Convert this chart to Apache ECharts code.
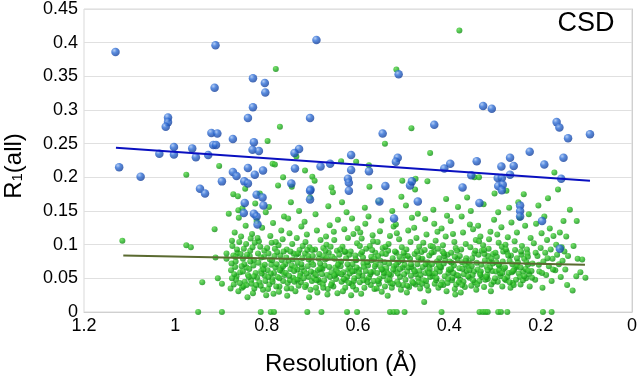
<!DOCTYPE html>
<html>
<head>
<meta charset="utf-8">
<script src="https://cdn.jsdelivr.net/npm/echarts@6/dist/echarts.min.js"></script>
<style>
  html, body { margin: 0; padding: 0; background: #fff; }
  #chart { width: 640px; height: 383px; }
</style>
</head>
<body>
<div id="chart"></div>
<script>
// tick labels
const xTicks = ['0', '0.2', '0.4', '0.6', '0.8', '1', '1.2'];
const yTicks = ['0', '0.05', '0.1', '0.15', '0.2', '0.25', '0.3', '0.35', '0.4', '0.45'];

// blue points (resolution, R1)
const bluePoints = [
  [1.131,0.386],[0.912,0.396],[0.914,0.333],[0.691,0.404],[0.830,0.347],[0.804,0.340],[0.803,0.326],
  [0.830,0.304],[0.841,0.288],[0.705,0.288],[1.016,0.289],[1.016,0.282],[1.021,0.275],[0.921,0.266],
  [0.908,0.265],[0.874,0.257],[0.828,0.252],[0.917,0.248],[0.911,0.248],[1.003,0.245],[0.963,0.243],
  [0.831,0.241],[0.817,0.239],[0.729,0.242],[0.739,0.236],[1.035,0.235],[1.003,0.234],[0.928,0.233],
  [0.955,0.230],[1.123,0.215],[1.076,0.201],[0.841,0.214],[0.874,0.208],[0.866,0.202],[0.826,0.204],
  [0.808,0.210],[0.738,0.213],[0.898,0.194],[0.849,0.194],[0.841,0.191],[0.746,0.191],[0.946,0.183],
  [0.704,0.182],[0.935,0.176],[0.822,0.174],[0.809,0.170],[0.807,0.158],[0.848,0.162],[0.850,0.147],
  [0.828,0.146],[0.822,0.142],[0.820,0.130],[0.705,0.180],[0.705,0.167],
  [0.511,0.353],[0.326,0.306],[0.307,0.302],[0.433,0.278],[0.546,0.265],[0.165,0.282],[0.159,0.274],
  [0.140,0.258],[0.092,0.264],[0.224,0.238],[0.150,0.229],[0.192,0.219],[0.267,0.229],[0.259,0.217],
  [0.286,0.216],[0.340,0.224],[0.398,0.220],[0.411,0.213],[0.513,0.229],[0.517,0.223],[0.615,0.233],
  [0.615,0.211],[0.576,0.209],[0.661,0.220],[0.682,0.216],[0.622,0.198],[0.620,0.192],[0.540,0.187],
  [0.486,0.188],[0.482,0.194],[0.371,0.185],[0.352,0.203],[0.267,0.204],[0.294,0.199],[0.285,0.199],
  [0.293,0.187],[0.283,0.189],[0.155,0.198],[0.620,0.180],[0.553,0.164],[0.521,0.139],[0.469,0.164],
  [0.334,0.162],[0.285,0.181],[0.245,0.158],[0.245,0.150],[0.245,0.142],[0.197,0.135],[0.158,0.094]
];

// green points (resolution, R1)
const greenPoints = [
  // sparse, low resolution side
  [1.116,0.106],[0.976,0.099],[0.966,0.096],[0.976,0.204],[0.914,0.123],[0.941,0.044],[0.907,0.050],
  [0.898,0.042],[0.912,0.081],[0.888,0.087],[0.888,0.079],[0.879,0.035],[0.904,0.217],[0.883,0.146],
  [0.873,0.175],[0.862,0.151],
  // high outliers
  [0.378,0.418],[0.516,0.360],[0.780,0.361],[0.771,0.275],[0.798,0.254],[0.787,0.220],[0.782,0.219],
  [0.764,0.200],[0.483,0.273],[0.541,0.250],[0.442,0.236],[0.637,0.224],[0.604,0.223],[0.576,0.218],
  [0.503,0.195],[0.474,0.198],[0.448,0.194],[0.658,0.185],[0.345,0.200],[0.335,0.200],[0.170,0.207],
  [0.162,0.182],[0.735,0.231],[0.716,0.210],[0.700,0.201],[0.745,0.186],
  // zeros
  [0.950,0],[0.898,0],[0.813,0],[0.791,0],[0.784,0],[0.711,0],[0.680,0],[0.624,0],[0.602,0],[0.530,0],
  [0.522,0],[0.515,0],[0.498,0],[0.417,0],[0.334,0],[0.327,0],[0.321,0],[0.316,0],[0.293,0],[0.287,0],
  [0.273,0],[0.195,0],[0.176,0],
  // dense band
  [0.878,0.062],[0.875,0.098],[0.872,0.041],[0.870,0.118],[0.868,0.075],[0.866,0.053],[0.864,0.088],
  [0.862,0.031],[0.861,0.140],[0.876,0.106],[0.869,0.067],[0.863,0.172],[0.873,0.084],[0.867,0.048],
  [0.858,0.059],[0.856,0.112],[0.854,0.036],[0.852,0.079],[0.850,0.094],[0.848,0.045],[0.846,0.128],
  [0.844,0.066],[0.842,0.022],[0.857,0.086],[0.853,0.154],[0.849,0.071],[0.845,0.101],[0.841,0.055],
  [0.851,0.038],[0.847,0.183],
  [0.838,0.064],[0.836,0.091],[0.834,0.047],[0.832,0.116],[0.830,0.028],[0.828,0.077],[0.826,0.103],
  [0.824,0.058],[0.822,0.135],[0.837,0.083],[0.833,0.042],[0.829,0.069],[0.825,0.161],[0.821,0.051],
  [0.835,0.109],[0.827,0.035],
  [0.818,0.073],[0.816,0.044],[0.814,0.097],[0.812,0.061],[0.810,0.125],[0.808,0.033],[0.806,0.082],
  [0.804,0.054],[0.802,0.148],[0.817,0.105],[0.813,0.039],[0.809,0.068],[0.805,0.091],[0.801,0.025],
  [0.815,0.176],[0.811,0.057],
  [0.798,0.062],[0.796,0.087],[0.794,0.041],[0.792,0.113],[0.790,0.070],[0.788,0.049],[0.786,0.132],
  [0.784,0.058],[0.782,0.094],[0.797,0.034],[0.793,0.078],[0.789,0.103],[0.785,0.027],[0.781,0.066],
  [0.795,0.156],[0.787,0.045],
  [0.778,0.071],[0.776,0.052],[0.774,0.099],[0.772,0.038],[0.770,0.084],[0.768,0.121],[0.766,0.060],
  [0.764,0.046],[0.762,0.142],[0.777,0.089],[0.773,0.030],[0.769,0.065],[0.765,0.108],[0.761,0.055],
  [0.775,0.188],[0.767,0.077],
  [0.758,0.058],[0.756,0.093],[0.754,0.043],[0.752,0.076],[0.750,0.117],[0.748,0.064],[0.746,0.035],
  [0.744,0.101],[0.742,0.051],[0.757,0.081],[0.753,0.139],[0.749,0.047],[0.745,0.069],[0.741,0.087],
  [0.755,0.024],[0.747,0.163],
  [0.738,0.066],[0.736,0.048],[0.734,0.110],[0.732,0.073],[0.730,0.039],[0.728,0.092],[0.726,0.057],
  [0.724,0.127],[0.722,0.080],[0.737,0.031],[0.733,0.063],[0.729,0.150],[0.725,0.044],[0.721,0.098],
  [0.735,0.085],[0.727,0.053],
  [0.718,0.061],[0.716,0.087],[0.714,0.040],[0.712,0.115],[0.710,0.068],[0.708,0.052],[0.706,0.096],
  [0.704,0.033],[0.702,0.074],[0.717,0.134],[0.713,0.057],[0.709,0.083],[0.705,0.170],[0.701,0.046],
  [0.715,0.104],[0.707,0.022],
  [0.698,0.070],[0.696,0.050],[0.694,0.093],[0.692,0.036],[0.690,0.121],[0.688,0.062],[0.686,0.079],
  [0.684,0.044],[0.682,0.107],[0.697,0.058],[0.693,0.145],[0.689,0.029],[0.685,0.086],[0.681,0.065],
  [0.695,0.195],[0.687,0.048],
  [0.678,0.064],[0.676,0.095],[0.674,0.047],[0.672,0.078],[0.670,0.112],[0.668,0.055],[0.666,0.034],
  [0.664,0.088],[0.662,0.129],[0.677,0.041],[0.673,0.069],[0.669,0.100],[0.665,0.157],[0.661,0.052],
  [0.675,0.083],[0.667,0.026],
  [0.658,0.059],[0.656,0.082],[0.654,0.038],[0.652,0.107],[0.650,0.066],[0.648,0.049],[0.646,0.091],
  [0.644,0.137],[0.642,0.073],[0.657,0.043],[0.653,0.119],[0.649,0.056],[0.645,0.028],[0.641,0.085],
  [0.655,0.178],[0.647,0.062],
  [0.638,0.068],[0.636,0.045],[0.634,0.097],[0.632,0.059],[0.630,0.123],[0.628,0.036],[0.626,0.080],
  [0.624,0.052],[0.622,0.110],[0.637,0.075],[0.633,0.031],[0.629,0.089],[0.625,0.148],[0.621,0.063],
  [0.635,0.163],[0.627,0.047],
  [0.618,0.057],[0.616,0.090],[0.614,0.042],[0.612,0.071],[0.610,0.116],[0.608,0.050],[0.606,0.084],
  [0.604,0.033],[0.602,0.102],[0.617,0.065],[0.613,0.139],[0.609,0.046],[0.605,0.078],[0.601,0.124],
  [0.615,0.025],[0.607,0.061],
  [0.598,0.063],[0.596,0.044],[0.594,0.086],[0.592,0.109],[0.590,0.054],[0.588,0.072],[0.586,0.036],
  [0.584,0.131],[0.582,0.094],[0.597,0.058],[0.593,0.027],[0.589,0.081],[0.585,0.155],[0.581,0.048],
  [0.595,0.118],[0.587,0.067],
  [0.578,0.069],[0.576,0.051],[0.574,0.098],[0.572,0.040],[0.570,0.077],[0.568,0.114],[0.566,0.060],
  [0.564,0.034],[0.562,0.088],[0.577,0.142],[0.573,0.056],[0.569,0.092],[0.565,0.046],[0.561,0.071],
  [0.575,0.186],[0.567,0.105],
  [0.558,0.058],[0.556,0.083],[0.554,0.042],[0.552,0.120],[0.550,0.067],[0.548,0.030],[0.546,0.095],
  [0.544,0.053],[0.542,0.074],[0.557,0.104],[0.553,0.049],[0.549,0.136],[0.545,0.062],[0.541,0.038],
  [0.555,0.165],[0.547,0.087],
  [0.538,0.065],[0.536,0.047],[0.534,0.091],[0.532,0.072],[0.530,0.113],[0.528,0.055],[0.526,0.036],
  [0.524,0.080],[0.522,0.127],[0.537,0.059],[0.533,0.101],[0.529,0.043],[0.525,0.150],[0.521,0.068],
  [0.535,0.024],
  [0.518,0.061],[0.516,0.088],[0.514,0.045],[0.512,0.074],[0.510,0.108],[0.508,0.052],[0.506,0.033],
  [0.504,0.096],[0.502,0.066],[0.517,0.130],[0.513,0.057],[0.509,0.082],[0.505,0.171],[0.501,0.040],
  [0.515,0.117],
  [0.498,0.070],[0.496,0.048],[0.494,0.093],[0.492,0.060],[0.490,0.121],[0.488,0.037],[0.486,0.079],
  [0.484,0.054],[0.482,0.140],[0.497,0.084],[0.493,0.029],[0.489,0.066],[0.485,0.104],[0.481,0.045],
  [0.495,0.158],
  [0.478,0.063],[0.476,0.086],[0.474,0.041],[0.472,0.110],[0.470,0.071],[0.468,0.050],[0.466,0.097],
  [0.464,0.035],[0.462,0.078],[0.477,0.125],[0.473,0.056],[0.469,0.146],[0.465,0.061],[0.461,0.089],
  [0.475,0.182],[0.467,0.044],
  [0.458,0.067],[0.456,0.047],[0.454,0.092],[0.452,0.058],[0.450,0.115],[0.448,0.074],[0.446,0.032],
  [0.444,0.084],[0.442,0.052],[0.457,0.103],[0.453,0.138],[0.449,0.039],[0.445,0.069],[0.441,0.098],
  [0.455,0.015],[0.447,0.061],
  [0.438,0.071],[0.436,0.053],[0.434,0.089],[0.432,0.042],[0.430,0.106],[0.428,0.064],[0.426,0.119],
  [0.424,0.036],[0.422,0.080],[0.437,0.057],[0.433,0.131],[0.429,0.047],[0.425,0.094],[0.421,0.060],
  [0.435,0.152],[0.427,0.075],
  [0.418,0.066],[0.416,0.044],[0.414,0.099],[0.412,0.072],[0.410,0.053],[0.408,0.112],[0.406,0.031],
  [0.404,0.085],[0.402,0.058],[0.417,0.124],[0.413,0.040],[0.409,0.077],[0.405,0.143],[0.401,0.063],
  [0.415,0.090],[0.407,0.168],
  [0.398,0.062],[0.396,0.088],[0.394,0.047],[0.392,0.116],[0.390,0.069],[0.388,0.034],[0.386,0.095],
  [0.384,0.055],[0.382,0.079],[0.397,0.135],[0.393,0.051],[0.389,0.104],[0.385,0.041],[0.381,0.156],
  [0.395,0.073],[0.387,0.026],
  [0.378,0.065],[0.376,0.048],[0.374,0.093],[0.372,0.074],[0.370,0.118],[0.368,0.056],[0.366,0.037],
  [0.364,0.101],[0.362,0.061],[0.377,0.083],[0.373,0.142],[0.369,0.045],[0.365,0.070],[0.361,0.170],
  [0.375,0.029],
  [0.358,0.068],[0.356,0.051],[0.354,0.096],[0.352,0.039],[0.350,0.080],[0.348,0.123],[0.346,0.060],
  [0.344,0.044],[0.342,0.107],[0.357,0.073],[0.353,0.150],[0.349,0.055],[0.345,0.087],[0.341,0.033],
  [0.355,0.130],
  [0.338,0.063],[0.336,0.085],[0.334,0.046],[0.332,0.112],[0.330,0.070],[0.328,0.052],[0.326,0.099],
  [0.324,0.037],[0.322,0.077],[0.337,0.128],[0.333,0.058],[0.329,0.091],[0.325,0.160],[0.321,0.048],
  [0.335,0.105],
  [0.318,0.067],[0.316,0.049],[0.314,0.094],[0.312,0.075],[0.310,0.119],[0.308,0.041],[0.306,0.061],
  [0.304,0.086],[0.302,0.137],[0.317,0.055],[0.313,0.108],[0.309,0.031],[0.305,0.072],[0.301,0.176],
  [0.315,0.083],
  [0.298,0.060],[0.296,0.082],[0.294,0.045],[0.292,0.103],[0.290,0.068],[0.288,0.053],[0.286,0.126],
  [0.284,0.038],[0.282,0.090],[0.297,0.074],[0.293,0.148],[0.289,0.057],[0.285,0.097],[0.281,0.064],
  [0.295,0.115],
  [0.278,0.066],[0.276,0.047],[0.274,0.089],[0.272,0.111],[0.270,0.058],[0.268,0.076],[0.266,0.036],
  [0.264,0.133],[0.262,0.071],[0.277,0.100],[0.273,0.052],[0.269,0.155],[0.265,0.084],[0.261,0.043],
  [0.275,0.180],
  [0.258,0.063],[0.256,0.092],[0.254,0.048],[0.252,0.118],[0.250,0.074],[0.248,0.057],[0.246,0.140],
  [0.244,0.041],[0.242,0.085],[0.257,0.105],[0.253,0.067],[0.249,0.163],[0.245,0.052],[0.241,0.098],
  [0.238,0.060],[0.236,0.079],[0.234,0.128],[0.232,0.050],[0.230,0.093],[0.228,0.070],[0.226,0.145],
  [0.224,0.038],[0.222,0.110],[0.237,0.175],[0.233,0.064],[0.229,0.087],[0.225,0.056],
  // sparse, high resolution side
  [0.218,0.072],[0.215,0.102],[0.212,0.048],[0.210,0.131],[0.207,0.083],[0.205,0.158],[0.203,0.060],
  [0.200,0.095],[0.198,0.117],[0.196,0.036],[0.194,0.075],[0.192,0.142],[0.190,0.088],[0.188,0.055],
  [0.186,0.107],[0.184,0.169],[0.182,0.068],[0.180,0.124],[0.178,0.093],[0.176,0.046],[0.174,0.079],
  [0.172,0.113],[0.168,0.062],[0.166,0.100],[0.164,0.085],[0.160,0.071],[0.158,0.118],[0.156,0.052],
  [0.154,0.096],[0.152,0.076],[0.150,0.135],[0.148,0.090],[0.146,0.063],[0.144,0.112],[0.142,0.040],
  [0.140,0.083],[0.136,0.152],[0.130,0.032],[0.128,0.098],[0.122,0.053],[0.121,0.135],[0.119,0.079],
  [0.113,0.059],[0.109,0.078],[0.102,0.051]
];

// extra green points in the crowded core (0.03 - 0.10)
const greenCore = [
  [0.877,0.072],[0.871,0.056],[0.865,0.093],[0.859,0.043],[0.855,0.068],[0.843,0.085],[0.839,0.052],
  [0.831,0.096],[0.823,0.040],[0.819,0.087],[0.807,0.063],[0.803,0.046],[0.799,0.095],[0.791,0.057],
  [0.783,0.083],[0.779,0.038],[0.771,0.062],[0.763,0.090],[0.759,0.071],[0.751,0.054],[0.743,0.078],
  [0.739,0.045],[0.731,0.087],[0.723,0.066],[0.719,0.050],[0.711,0.092],[0.703,0.060],[0.699,0.083],
  [0.691,0.047],[0.683,0.072],[0.679,0.056],[0.671,0.091],[0.663,0.067],[0.659,0.040],[0.651,0.079],
  [0.643,0.058],[0.639,0.093],[0.631,0.049],[0.623,0.071],[0.619,0.085],[0.611,0.038],[0.603,0.066],
  [0.599,0.053],[0.591,0.089],[0.583,0.061],[0.579,0.044],[0.571,0.082],[0.563,0.068],[0.559,0.035],
  [0.551,0.076],[0.543,0.058],[0.539,0.086],[0.531,0.048],[0.523,0.063],[0.519,0.090],[0.511,0.041],
  [0.503,0.077],[0.499,0.056],[0.491,0.083],[0.483,0.067],[0.479,0.043],[0.471,0.090],[0.463,0.055],
  [0.459,0.079],[0.451,0.046],[0.443,0.064],[0.439,0.088],[0.431,0.057],[0.423,0.070],[0.419,0.040],
  [0.411,0.083],[0.403,0.049],[0.399,0.075],[0.391,0.058],[0.383,0.091],[0.379,0.044],[0.371,0.064],
  [0.363,0.080],[0.359,0.053],[0.351,0.068],[0.343,0.091],[0.339,0.041],[0.331,0.060],[0.323,0.086],
  [0.319,0.052],[0.311,0.066],[0.303,0.045],[0.299,0.088],[0.291,0.062],[0.283,0.075],[0.279,0.049],
  [0.271,0.084],[0.263,0.059],[0.259,0.040],[0.251,0.069],[0.243,0.090],[0.239,0.047],[0.231,0.074],
  [0.227,0.061],[0.219,0.051],[0.211,0.088],[0.204,0.070],[0.197,0.058],[0.185,0.080],[0.173,0.063],
  [0.876,0.050],[0.868,0.082],[0.860,0.104],[0.852,0.060],[0.844,0.040],[0.836,0.075],[0.828,0.053],
  [0.820,0.110],[0.812,0.081],[0.804,0.070],[0.796,0.052],[0.788,0.077],[0.780,0.104],[0.772,0.050],
  [0.764,0.068],[0.756,0.035],[0.748,0.090],[0.740,0.061],[0.732,0.048],[0.724,0.071],[0.716,0.037],
  [0.708,0.078],[0.700,0.092],[0.692,0.055],[0.684,0.064],[0.676,0.036],[0.668,0.080],[0.660,0.097],
  [0.652,0.054],[0.644,0.070],[0.636,0.056],[0.628,0.090],[0.620,0.043],[0.612,0.060],[0.604,0.077],
  [0.596,0.098],[0.588,0.047],[0.580,0.074],[0.572,0.059],[0.564,0.079],[0.556,0.046],[0.548,0.063],
  [0.540,0.097],[0.532,0.056],[0.524,0.042],[0.516,0.070],[0.508,0.064],[0.500,0.088],[0.492,0.039],
  [0.484,0.071],[0.476,0.060],[0.468,0.081],[0.460,0.042],[0.452,0.071],[0.444,0.057],[0.436,0.097],
  [0.428,0.050],[0.420,0.067],[0.412,0.087],[0.404,0.043],[0.396,0.064],[0.388,0.082],[0.380,0.054],
  [0.372,0.040],[0.364,0.076],[0.356,0.062],[0.348,0.047],[0.340,0.073],[0.332,0.055],[0.324,0.092],
  [0.316,0.062],[0.308,0.079],[0.300,0.050],[0.292,0.070],[0.284,0.058],[0.276,0.093],[0.268,0.044],
  [0.260,0.061],[0.252,0.080],[0.244,0.066],[0.236,0.053],[0.228,0.082],[0.220,0.061]
];

// linear trend lines
const blueTrend = [[1.130,0.244],[0.092,0.195]];
const greenTrend = [[1.114,0.084],[0.103,0.070]];

const chart = echarts.init(document.getElementById('chart'));

const blueBall = new echarts.graphic.RadialGradient(0.35, 0.3, 0.75, [
  { offset: 0, color: '#9fc0f2' },
  { offset: 0.4, color: '#2f6ed6' },
  { offset: 1, color: '#123c96' }
]);
const greenBall = new echarts.graphic.RadialGradient(0.35, 0.3, 0.75, [
  { offset: 0, color: '#5ed64a' },
  { offset: 0.55, color: '#22b422' },
  { offset: 1, color: '#138513' }
]);

chart.setOption({
  animation: false,
  textStyle: { fontFamily: 'Liberation Sans, Arial, sans-serif' },
  grid: {
    left: 84, right: 7, top: 7, bottom: 71,
    show: true, borderColor: '#d9d9d9', borderWidth: 1
  },
  xAxis: {
    type: 'value', inverse: true, min: 0, max: 1.2, interval: 0.2,
    axisLine: { show: true, lineStyle: { color: '#d0d0d0' } },
    axisTick: { show: false },
    splitLine: { show: false },
    axisLabel: {
      color: '#000', fontSize: 18, margin: 5,
      formatter: (v) => xTicks[Math.round(v / 0.2)]
    }
  },
  yAxis: {
    type: 'value', min: 0, max: 0.45, interval: 0.05,
    axisLine: { show: true, lineStyle: { color: '#d0d0d0' } },
    axisTick: { show: false },
    splitLine: { lineStyle: { color: '#e0e0e0' } },
    axisLabel: {
      color: '#000', fontSize: 18, margin: 6,
      formatter: (v) => yTicks[Math.round(v / 0.05)]
    }
  },
  graphic: [
    {
      type: 'text', left: 265, top: 352,
      style: { text: 'Resolution (Å)', fontSize: 24, fill: '#000', fontFamily: 'Liberation Sans' }
    },
    {
      type: 'text', x: 14, y: 166, rotation: Math.PI / 2,
      style: {
        text: '{a|R}{b|1}{a|(all)}', align: 'center', verticalAlign: 'middle',
        rich: {
          a: { fontSize: 24, fill: '#000', fontFamily: 'Liberation Sans' },
          b: { fontSize: 15, fill: '#000', fontFamily: 'Liberation Sans', padding: [8, 0, 0, 0] }
        }
      }
    },
    {
      type: 'text', x: 586, y: 24,
      style: {
        text: 'CSD', fontSize: 27, fill: '#000', fontFamily: 'Liberation Sans',
        align: 'center', verticalAlign: 'middle'
      }
    }
  ],
  series: [
    {
      type: 'scatter', data: greenPoints.concat(greenCore), symbolSize: 6,
      itemStyle: { color: greenBall }, z: 2
    },
    {
      type: 'scatter', data: bluePoints, symbolSize: 8.5,
      itemStyle: { color: blueBall }, z: 3
    },
    {
      type: 'line', data: greenTrend, showSymbol: false, z: 4,
      lineStyle: { color: '#5a6a30', width: 2 }
    },
    {
      type: 'line', data: blueTrend, showSymbol: false, z: 4,
      lineStyle: { color: '#0a10c0', width: 2 }
    }
  ]
});
</script>
</body>
</html>
